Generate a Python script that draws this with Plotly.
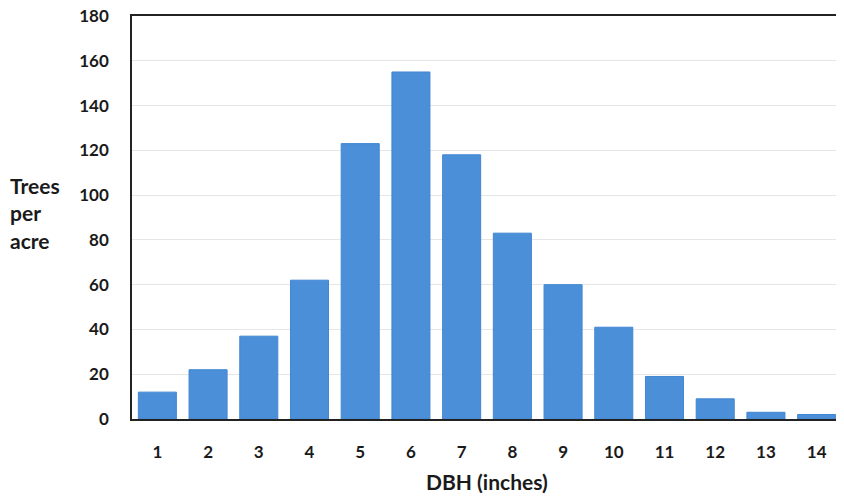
import plotly.graph_objects as go

dbh = [1, 2, 3, 4, 5, 6, 7, 8, 9, 10, 11, 12, 13, 14]
trees_per_acre = [12, 22, 37, 62, 123, 155, 118, 83, 60, 41, 19, 9, 3, 2]
y_ticks = [0, 20, 40, 60, 80, 100, 120, 140, 160, 180]

fig = go.Figure(go.Bar(
    x=[str(v) for v in dbh], y=trees_per_acre,
    marker=dict(color="#4a8fd8", line=dict(color="#4286d2", width=1)),
))

font_fam = "Lato, 'Open Sans', sans-serif"
fig.update_layout(
    width=836, height=489,
    margin=dict(l=124, r=2, t=8, b=78),
    paper_bgcolor="white", plot_bgcolor="white",
    bargap=0.25, showlegend=False,
    font=dict(family=font_fam, color="#1a1a1a"),
)
fig.update_xaxes(
    type="category", showline=True, mirror=True, linecolor="#222", linewidth=1.5,
    showgrid=False, ticks="", ticklabelstandoff=17, automargin=False,
    tickfont=dict(size=17, family=font_fam, weight="bold", color="#1a1a1a"),
)
fig.update_yaxes(
    range=[0, 180], tickvals=y_ticks, showline=True, mirror=True, linecolor="#222",
    linewidth=1.5, showgrid=True, gridcolor="#e6e6e6", gridwidth=1, ticks="",
    ticklabelstandoff=18, zeroline=False, ticklabeloverflow="allow", automargin=False,
    tickfont=dict(size=17, family=font_fam, weight="bold", color="#1a1a1a"),
)
fig.add_annotation(
    text="DBH (inches)", xref="paper", yref="paper", x=0.5, y=-0.154,
    xanchor="center", yanchor="middle", showarrow=False,
    font=dict(size=21, family=font_fam, weight="bold", color="#1a1a1a"),
)
fig.add_annotation(
    text="Trees<br>per<br>acre", xref="paper", yref="paper", x=-0.1746, y=0.511,
    xanchor="left", yanchor="middle", align="left", showarrow=False,
    font=dict(size=21, family=font_fam, weight="bold", color="#1a1a1a"),
)
fig.write_html("out.html")
